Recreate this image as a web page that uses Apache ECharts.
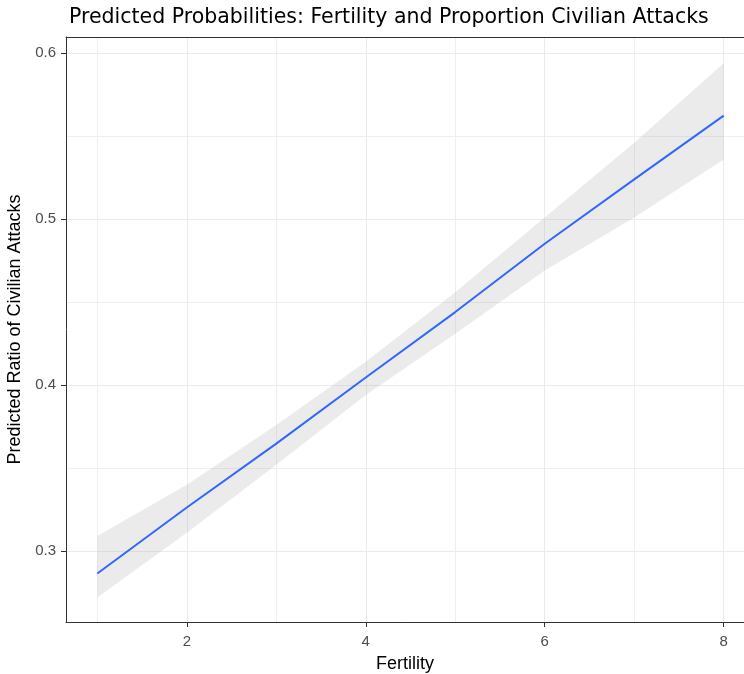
<!DOCTYPE html>
<html>
<head>
<meta charset="utf-8">
<script src="https://cdn.jsdelivr.net/npm/echarts@6/dist/echarts.min.js"></script>
<style>
html,body{margin:0;padding:0;background:#fff;}
#chart{width:744px;height:674px;}
</style>
</head>
<body>
<div id="chart"></div>
<script>
var fertility = [1, 2, 3, 4, 5, 6, 7, 8];
var predicted = [0.2864, 0.3262, 0.3647, 0.4046, 0.4440, 0.4852, 0.5240, 0.5624];
var ciUpper   = [0.309, 0.340, 0.376, 0.414, 0.456, 0.501, 0.546, 0.594];
var ciLower   = [0.272, 0.311, 0.352, 0.394, 0.431, 0.469, 0.501, 0.536];
var xMajorTicks = [2, 4, 6, 8];
var xMinorTicks = [1, 3, 5, 7];
var yMajorTicks = [0.3, 0.4, 0.5, 0.6];
var yMinorTicks = [0.35, 0.45, 0.55];

var FONT = '"Liberation Sans", Arial, sans-serif';
var X_MIN = 0.65, X_MAX = 8.227, Y_MIN = 0.2572, Y_MAX = 0.6098;

var linePoints = fertility.map(function (x, i) { return [x, predicted[i]]; });
var bandData = fertility.map(function (x, i) { return [x, ciLower[i], ciUpper[i]]; });

var chart = echarts.init(document.getElementById('chart'), null, {renderer: 'canvas'});
chart.setOption({
  backgroundColor: '#ffffff',
  animation: false,
  title: {
    text: 'Predicted Probabilities: Fertility and Proportion Civilian Attacks',
    left: 64, top: 2,
    textStyle: {fontFamily: '"DejaVu Sans", sans-serif', fontSize: 20.5, fontWeight: 'normal', color: '#000000'}
  },
  grid: {
    left: 66, top: 37, right: 0, bottom: 52,
    containLabel: false,
    outerBoundsMode: 'none',
    show: false
  },
  xAxis: [{
    type: 'value', min: X_MIN, max: X_MAX,
    name: 'Fertility', nameLocation: 'middle', nameGap: 33,
    nameTextStyle: {fontFamily: FONT, fontSize: 18, color: '#000000'},
    axisLine: {show: true, onZero: false, lineStyle: {color: '#333333', width: 1}},
    axisTick: {show: true, length: 5, customValues: xMajorTicks, lineStyle: {color: '#333333'}},
    axisLabel: {customValues: xMajorTicks, margin: 12, fontFamily: FONT, fontSize: 15, color: '#4D4D4D'},
    splitLine: {show: true, lineStyle: {color: '#EBEBEB', width: 1}}
  }, {
    type: 'value', min: X_MIN, max: X_MAX, position: 'top',
    axisLine: {show: true, onZero: false, lineStyle: {color: '#333333', width: 1}},
    axisLabel: {show: false},
    axisTick: {show: false, customValues: xMinorTicks},
    splitLine: {show: true, lineStyle: {color: '#EFEFEF', width: 1}}
  }],
  yAxis: [{
    type: 'value', min: Y_MIN, max: Y_MAX,
    name: 'Predicted Ratio of Civilian Attacks', nameLocation: 'middle', nameGap: 28,
    nameTextStyle: {fontFamily: FONT, fontSize: 18, color: '#000000'},
    axisLine: {show: true, onZero: false, lineStyle: {color: '#333333', width: 1}},
    axisTick: {show: true, length: 5, customValues: yMajorTicks, lineStyle: {color: '#333333'}},
    axisLabel: {customValues: yMajorTicks, margin: 10, fontFamily: FONT, fontSize: 15, color: '#4D4D4D',
      formatter: function (v) { return String(Math.round(v * 10) / 10); }},
    splitLine: {show: true, lineStyle: {color: '#EBEBEB', width: 1}}
  }, {
    type: 'value', min: Y_MIN, max: Y_MAX, position: 'left',
    axisLine: {show: false}, axisLabel: {show: false},
    axisTick: {show: false, customValues: yMinorTicks},
    splitLine: {show: true, lineStyle: {color: '#EFEFEF', width: 1}}
  }],
  series: [{
    type: 'custom',
    xAxisIndex: 0, yAxisIndex: 0,
    data: bandData,
    encode: {x: 0, y: [1, 2]},
    renderItem: function (params, api) {
      if (params.dataIndex !== 0) return null;
      var upper = [], lower = [];
      for (var i = 0; i < bandData.length; i++) {
        upper.push(api.coord([bandData[i][0], bandData[i][2]]));
        lower.push(api.coord([bandData[i][0], bandData[i][1]]));
      }
      var pts = upper.concat(lower.reverse());
      return {
        type: 'polygon',
        shape: {points: pts},
        style: {fill: 'rgba(153,153,153,0.2)', stroke: null}
      };
    },
    z: 2, silent: true
  }, {
    type: 'line',
    xAxisIndex: 0, yAxisIndex: 0,
    data: linePoints,
    showSymbol: false, symbol: 'none',
    lineStyle: {color: '#3366FF', width: 2},
    z: 3, silent: true
  }]
});
</script>
</body>
</html>
